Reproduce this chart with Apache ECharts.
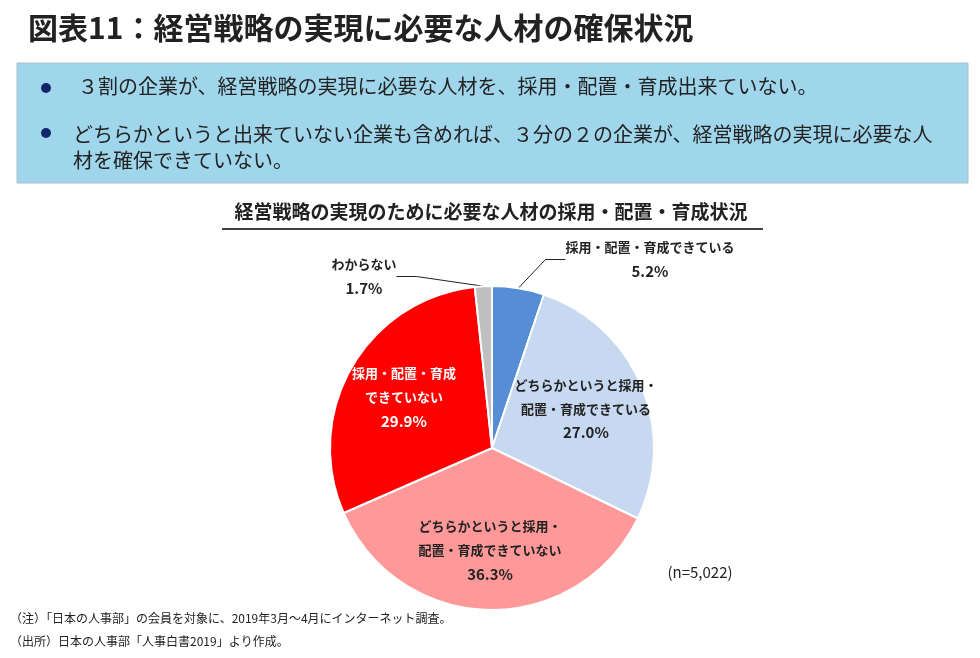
<!DOCTYPE html>
<html>
<head>
<meta charset="utf-8">
<script src="https://cdn.jsdelivr.net/npm/echarts@6/dist/echarts.min.js"></script>
<style>
  html, body { margin: 0; padding: 0; background: #fff; }
  #chart { width: 980px; height: 658px; }
</style>
</head>
<body>
<div id="chart"></div>
<script>
// 区分と構成比（%）
const categories = [
	'採用・配置・育成できている',
	'どちらかというと採用・\n配置・育成できている',
	'どちらかというと採用・\n配置・育成できていない',
	'採用・配置・育成\nできていない',
	'わからない'
];
const shares = [5.2, 27.0, 36.3, 29.9, 1.7];
const sliceColors = ['#558ED5', '#C6D9F1', '#FF9999', '#FF0000', '#BFBFBF'];

const pageTitle = '図表11：経営戦略の実現に必要な人材の確保状況';
const bullets = [
	'３割の企業が、経営戦略の実現に必要な人材を、採用・配置・育成出来ていない。',
	'どちらかというと出来ていない企業も含めれば、３分の２の企業が、経営戦略の実現に必要な人\n材を確保できていない。'
];
const chartTitle = '経営戦略の実現のために必要な人材の採用・配置・育成状況';
const sampleNote = '(n=5,022)';
const notes = [
	'（注）「日本の人事部」の会員を対象に、2019年3月～4月にインターネット調査。',
	'（出所）日本の人事部「人事白書2019」より作成。'
];

const FONT = '"Noto Sans CJK JP", "Noto Sans", sans-serif';
const CENTER = [492, 448];
const R = 162;

let echart = echarts.init(document.getElementById('chart'));

let pieData = categories.map((name, i) => ({
	name: name,
	value: shares[i],
	itemStyle: { color: sliceColors[i] }
}));

// 外側ラベル（小さい区分）
const outsideIdx = [0, 4];
const outsidePos = { 0: [650, 259], 4: [364, 276] };

// ラベル：名称＋構成比
function labelText(p) {
	let lines = p.name.split('\n').map(s => '{n|' + s + '}');
	return lines.join('\n') + '\n{v|' + p.value.toFixed(1) + '%}';
}

function richStyle(color) {
	return {
		n: { fontFamily: FONT, fontWeight: 'bold', fontSize: 13, lineHeight: 24, color: color, align: 'center' },
		v: { fontFamily: FONT, fontWeight: 'bold', fontSize: 15, lineHeight: 24, color: color, align: 'center' }
	};
}

let option = {
	backgroundColor: '#fff',
	animation: false,
	graphic: [
		{
			type: 'text', left: 28, top: 13,
			style: { text: pageTitle, font: 'bold 30px ' + FONT, fill: '#222' }
		},
		{
			type: 'rect', shape: { x: 17, y: 63, width: 951, height: 120 },
			style: { fill: '#A0D6EC', stroke: '#A9BFCC', lineWidth: 1 }
		},
		{ type: 'circle', shape: { cx: 46, cy: 88, r: 5 }, style: { fill: '#12266B' } },
		{ type: 'circle', shape: { cx: 46, cy: 133, r: 5 }, style: { fill: '#12266B' } },
		{
			type: 'text', left: 78, top: 76,
			style: { text: bullets[0], font: '20px ' + FONT, fill: '#222' }
		},
		{
			type: 'text', left: 73, top: 121,
			style: { text: bullets[1], font: '20px ' + FONT, fill: '#222', lineHeight: 26 }
		},
		{
			type: 'text', x: 491, y: 212,
			style: { text: chartTitle, font: 'bold 19px ' + FONT, fill: '#222', align: 'center', verticalAlign: 'middle' }
		},
		{
			type: 'line', shape: { x1: 222, y1: 229, x2: 763, y2: 229 },
			style: { stroke: '#404040', lineWidth: 2 }
		},
		{
			type: 'text', x: 700, y: 572,
			style: { text: sampleNote, font: '15px ' + FONT, fill: '#222', align: 'center', verticalAlign: 'middle' }
		},
		{
			type: 'text', left: 10, top: 612,
			style: { text: notes[0], font: '12px ' + FONT, fill: '#222' }
		},
		{
			type: 'text', left: 10, top: 635,
			style: { text: notes[1], font: '12px ' + FONT, fill: '#222' }
		}
	],
	series: [
		{
			// 本体の円グラフ
			type: 'pie',
			center: CENTER,
			radius: [0, R],
			startAngle: 90,
			clockwise: true,
			silent: true,
			itemStyle: { borderColor: '#fff', borderWidth: 2 },
			data: pieData.map((d, i) => Object.assign({}, d, {
				label: { show: outsideIdx.indexOf(i) >= 0 },
				labelLine: { show: outsideIdx.indexOf(i) >= 0 }
			})),
			label: {
				position: 'outside',
				formatter: labelText,
				rich: richStyle('#222'),
				align: 'center'
			},
			labelLine: {
				length: 20,
				length2: 20,
				lineStyle: { color: '#222', width: 1 }
			},
			labelLayout: params => {
				let pos = outsidePos[params.dataIndex];
				if (!pos) return {};
				return { x: pos[0], y: pos[1], align: 'center', verticalAlign: 'middle' };
			}
		},
		{
			// 内側ラベル用の透明レイヤー
			type: 'pie',
			center: CENTER,
			radius: [0, R * 1.22],
			startAngle: 90,
			clockwise: true,
			silent: true,
			z: 5,
			itemStyle: { color: 'transparent' },
			data: pieData.map((d, i) => ({
				name: d.name,
				value: d.value,
				itemStyle: { color: 'transparent' },
				label: {
					show: outsideIdx.indexOf(i) < 0,
					rich: richStyle(i === 3 ? '#fff' : '#222')
				},
				labelLine: { show: false }
			})),
			label: {
				position: 'inside',
				formatter: labelText,
				align: 'center'
			}
		}
	]
};

echart.setOption(option);
</script>
</body>
</html>
